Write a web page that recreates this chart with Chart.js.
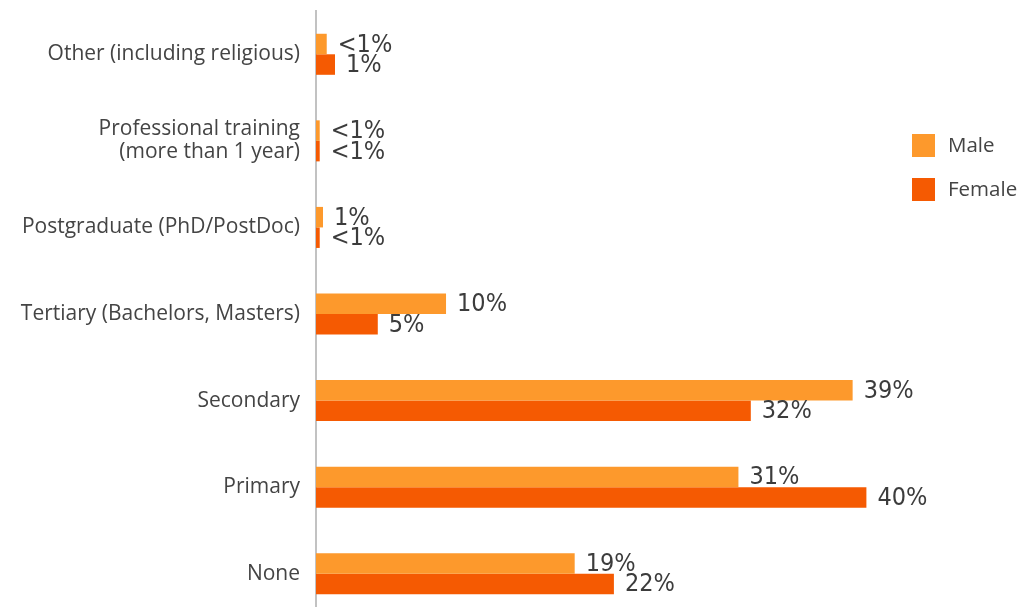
<!DOCTYPE html>
<html>
<head>
<meta charset="utf-8">
<script src="https://cdn.jsdelivr.net/npm/chart.js@4/dist/chart.umd.min.js"></script>
<style>
html,body{margin:0;padding:0;background:#fff;overflow:hidden;}
#wrap{width:1021px;height:617px;}
</style>
</head>
<body>
<div id="wrap"><canvas id="c" width="1021" height="617"></canvas></div>
<script>
const categories = [
  "Other (including religious)",
  ["Professional training", "(more than 1 year)"],
  "Postgraduate (PhD/PostDoc)",
  "Tertiary (Bachelors, Masters)",
  "Secondary",
  "Primary",
  "None"
];
const maleValues   = [0.78, 0.27, 0.51, 9.45, 39.0, 30.7, 18.8];
const femaleValues = [1.38, 0.27, 0.27, 4.49, 31.6, 40.0, 21.65];
const maleLabels   = ["<1%", "<1%", "1%", "10%", "39%", "31%", "19%"];
const femaleLabels = ["1%", "<1%", "<1%", "5%", "32%", "40%", "22%"];
const seriesNames  = ["Male", "Female"];
const seriesColors = ["#FD992C", "#F55A02"];

const valueLabelPlugin = {
  id: 'valueLabels',
  afterDatasetsDraw(chart) {
    const ctx = chart.ctx;
    const texts = [maleLabels, femaleLabels];
    ctx.save();
    ctx.font = "25px 'DejaVu Sans Condensed', 'DejaVu Sans', sans-serif";
    ctx.fillStyle = "#3c3c3c";
    ctx.textBaseline = "middle";
    ctx.textAlign = "left";
    chart.data.datasets.forEach((ds, di) => {
      const meta = chart.getDatasetMeta(di);
      meta.data.forEach((el, i) => {
        ctx.fillText(texts[di][i], el.x + 11, el.y + 1);
      });
    });
    ctx.restore();
  }
};

const legendPlugin = {
  id: 'customLegend',
  afterDraw(chart) {
    const ctx = chart.ctx;
    ctx.save();
    ctx.font = "20.5px 'Open Sans', sans-serif";
    ctx.textBaseline = "middle";
    chart.data.datasets.forEach((ds, i) => {
      const y = 134 + i * 44;
      ctx.fillStyle = ds.backgroundColor;
      ctx.fillRect(912, y, 23, 23);
      ctx.fillStyle = "#444444";
      ctx.fillText(ds.label, 948, y + 12);
    });
    ctx.restore();
  }
};

new Chart(document.getElementById('c'), {
  type: 'bar',
  data: {
    labels: categories,
    datasets: [
      { label: seriesNames[0], data: maleValues, backgroundColor: seriesColors[0], borderWidth: 0 },
      { label: seriesNames[1], data: femaleValues, backgroundColor: seriesColors[1], borderWidth: 0 }
    ]
  },
  options: {
    indexAxis: 'y',
    responsive: false,
    animation: false,
    devicePixelRatio: 1,
    categoryPercentage: 0.474,
    barPercentage: 1.0,
    layout: { padding: { top: 11, bottom: 0, left: 0, right: 17 } },
    plugins: { legend: { display: false }, tooltip: { enabled: false } },
    scales: {
      x: { display: false, min: 0, max: 50 },
      y: {
        afterFit(s) { s.width = 316; s.paddingTop = 0; s.paddingBottom = 0; },
        grid: { display: false, drawTicks: false },
        border: { display: true, color: "#c2c2c2", width: 2 },
        ticks: {
          padding: 16,
          color: "#444444",
          font: { family: "'Open Sans', sans-serif", size: 21, lineHeight: 1.1 }
        }
      }
    }
  },
  plugins: [valueLabelPlugin, legendPlugin]
});
</script>
</body>
</html>
